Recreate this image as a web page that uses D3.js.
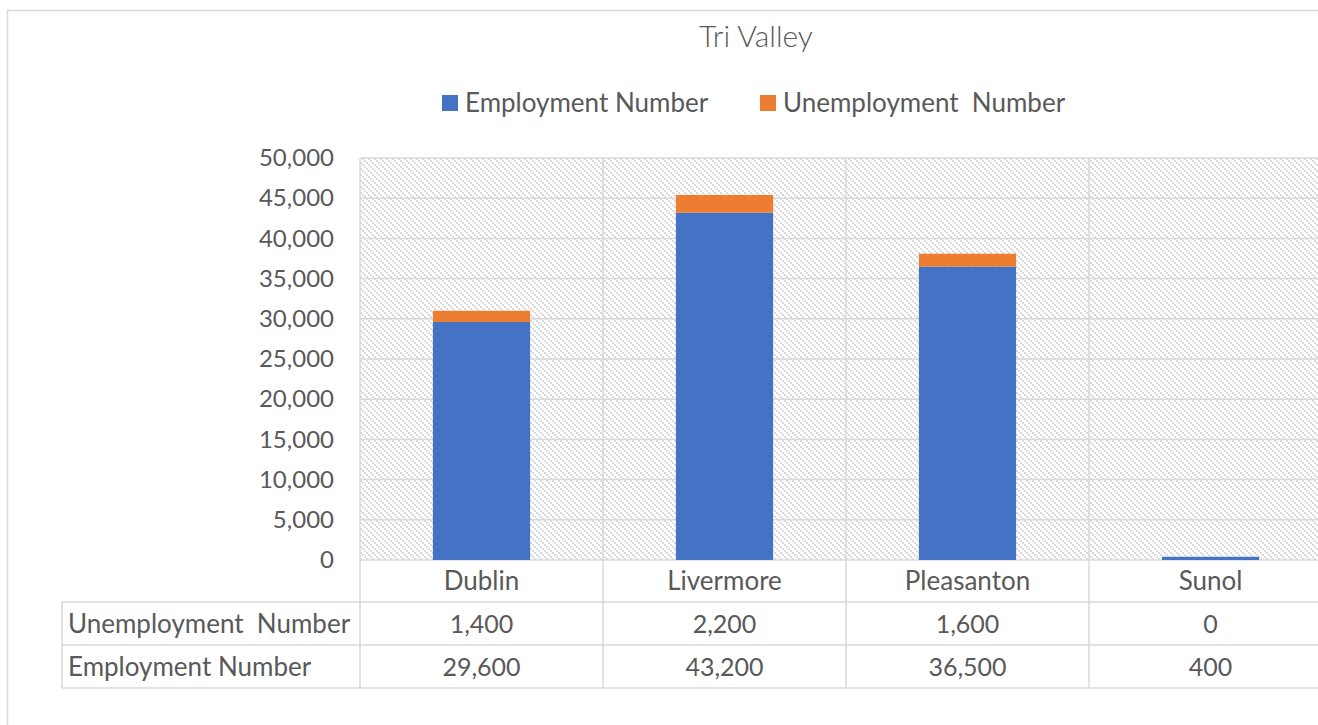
<!DOCTYPE html>
<html><head><meta charset="utf-8">
<script src="https://cdn.jsdelivr.net/npm/d3@7"></script>
<style>
html,body{margin:0;padding:0;background:#fff;overflow:hidden;}
svg text{font-family:Lato,"Open Sans",sans-serif;fill:#595959;}
</style></head>
<body>
<svg id="c" width="1318" height="725"></svg>
<script>
const title = "Tri Valley";
const categories = ["Dublin", "Livermore", "Pleasanton", "Sunol"];
const employment = [29600, 43200, 36500, 400];
const unemployment = [1400, 2200, 1600, 0];
const seriesNames = ["Employment Number", "Unemployment  Number"];
const seriesColors = ["#4472C4", "#ED7D31"];
const yTicks = [0, 5000, 10000, 15000, 20000, 25000, 30000, 35000, 40000, 45000, 50000];

(function(){
const svg = d3.select("#c");
const W = 1318, H = 725;
const pLeft = 360, step = 243, pTop = 158, pBottom = 560;
const pRight = pLeft + step * categories.length;
const gridC = "#d9d9d9";

const defs = svg.append("defs");
const pat = defs.append("pattern").attr("id","hatch").attr("patternUnits","userSpaceOnUse")
  .attr("width",6).attr("height",6);
pat.append("rect").attr("width",6).attr("height",6).attr("fill","#fff");
[0,2,4].forEach(k=>{
  pat.append("rect").attr("x",k).attr("y",k).attr("width",2).attr("height",2).attr("fill","#dadada");
});

svg.append("rect").attr("x",7.5).attr("y",10.5).attr("width",W).attr("height",H).attr("fill","none").attr("stroke",gridC).attr("stroke-width",1.5);

const x = d3.scaleBand().domain(categories).range([pLeft, pRight]).paddingInner(0.6).paddingOuter(0.3);
const xCell = d3.scaleBand().domain(categories).range([pLeft, pRight]).padding(0);
const y = d3.scaleLinear().domain([0, 50000]).range([pBottom, pTop]);

svg.append("rect").attr("x",pLeft).attr("y",pTop).attr("width",pRight-pLeft).attr("height",pBottom-pTop).attr("fill","url(#hatch)");

svg.append("g").selectAll("line").data(yTicks).join("line")
  .attr("x1",pLeft).attr("x2",pRight).attr("y1",d=>y(d)).attr("y2",d=>y(d))
  .attr("stroke",gridC).attr("stroke-width",1.5);
const vx = categories.map(c=>xCell(c)).concat([pRight]);
svg.append("g").selectAll("line").data(vx).join("line")
  .attr("x1",d=>d).attr("x2",d=>d).attr("y1",pTop).attr("y2",688)
  .attr("stroke",gridC).attr("stroke-width",1.5);

const yAxis = d3.axisLeft(y).tickValues(yTicks).tickSize(0).tickPadding(26).tickFormat(d3.format(","));
const ya = svg.append("g").attr("transform",`translate(${pLeft},0)`).call(yAxis);
ya.select(".domain").remove();
ya.selectAll("text").style("font-size","24px").style("font-family","Lato").attr("fill","#595959");

const stack = categories.map((c,i)=>({c, e:employment[i], u:unemployment[i]}));
svg.append("g").selectAll("rect").data(stack).join("rect")
  .attr("x",d=>x(d.c)).attr("width",x.bandwidth())
  .attr("y",d=>y(d.e)).attr("height",d=>y(0)-y(d.e)).attr("fill",seriesColors[0]);
svg.append("g").selectAll("rect").data(stack.filter(d=>d.u>0)).join("rect")
  .attr("x",d=>x(d.c)).attr("width",x.bandwidth())
  .attr("y",d=>y(d.e+d.u)).attr("height",d=>y(d.e)-y(d.e+d.u)).attr("fill",seriesColors[1]);

const tLeft = 62;
[602, 645, 688].forEach(yy=>{
  svg.append("line").attr("x1",tLeft).attr("x2",pRight).attr("y1",yy).attr("y2",yy).attr("stroke",gridC).attr("stroke-width",1.5);
});
svg.append("line").attr("x1",tLeft).attr("x2",tLeft).attr("y1",602).attr("y2",688).attr("stroke",gridC).attr("stroke-width",1.5);

svg.append("g").selectAll("text").data(categories).join("text")
  .attr("x",d=>xCell(d)+xCell.bandwidth()/2).attr("y",581).attr("dy","0.35em")
  .attr("text-anchor","middle").style("font-size","26px").text(d=>d);

const rows = [{name:seriesNames[1], vals:unemployment, y:624},{name:seriesNames[0], vals:employment, y:667}];
rows.forEach(r=>{
  svg.append("text").attr("x",68).attr("y",r.y).attr("dy","0.35em").style("font-size","26px").style("white-space","pre").attr("xml:space","preserve").text(r.name);
  svg.append("g").selectAll("text").data(r.vals).join("text")
    .attr("x",(d,i)=>xCell(categories[i])+xCell.bandwidth()/2).attr("y",r.y).attr("dy","0.35em")
    .attr("text-anchor","middle").style("font-size","25px").text(d=>d3.format(",")(d));
});

svg.append("text").attr("x",756).attr("y",36).attr("dy","0.35em").attr("text-anchor","middle")
  .style("font-size","30px").style("font-weight","300").text(title);

const leg = [{n:seriesNames[0], c:seriesColors[0], x:442},{n:seriesNames[1], c:seriesColors[1], x:760}];
leg.forEach(l=>{
  svg.append("rect").attr("x",l.x).attr("y",95).attr("width",16).attr("height",16).attr("fill",l.c);
  svg.append("text").attr("x",l.x+23).attr("y",103).attr("dy","0.35em").style("font-size","26px").style("white-space","pre").attr("xml:space","preserve").text(l.n);
});
})();
</script>
</body></html>
